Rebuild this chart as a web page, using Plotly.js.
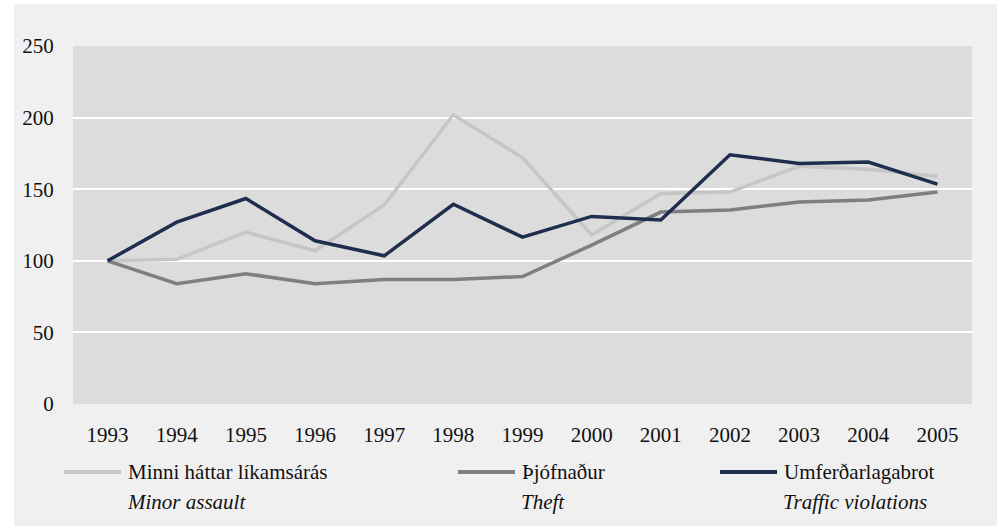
<!DOCTYPE html>
<html>
<head>
<meta charset="utf-8">
<script src="https://cdn.plot.ly/plotly-3.0.1.min.js"></script>
<style>
  html, body { margin: 0; padding: 0; background: #ffffff; font-family: 'Liberation Serif', serif; }
  #chart { position: absolute; left: 14px; top: 4px; width: 983px; height: 522px; }
  #fontwarm { position: absolute; left: -9999px; top: -9999px; font-family: 'Liberation Serif', serif; font-size: 21px; }
</style>
</head>
<body>
<span id="fontwarm">1993 Minni h&aacute;ttar <i>Minor assault</i></span>
<div id="chart"></div>
<script>
const years = ['1993','1994','1995','1996','1997','1998','1999','2000','2001','2002','2003','2004','2005'];
const minorAssault = [100, 101, 120, 107, 139, 202, 172, 118, 147, 148, 166, 164, 159];
const theft = [100, 84, 91, 84, 87, 87, 89, 111, 134, 135.5, 141, 142.5, 148];
const traffic = [100, 127, 143.5, 114, 103.5, 139.5, 116.5, 131, 128.5, 174, 168, 169, 153.5];

const namesIs = ['Minni háttar líkamsárás', 'Þjófnaður', 'Umferðarlagabrot'];
const namesEn = ['Minor assault', 'Theft', 'Traffic violations'];
const yTicks = [0, 50, 100, 150, 200, 250];

const colors = ['#c6c6c6', '#7f7f7f', '#1f2d4e'];
const series = [minorAssault, theft, traffic];

const FONT = 'Liberation Serif, serif';
const FS = 21;
const W = 983, H = 522;
const M = {l: 59, r: 25, t: 42, b: 122};
const pw = W - M.l - M.r, ph = H - M.t - M.b;
const px = x => (x - M.l) / pw;
const py = y => (H - M.b - y) / ph;

const traces = series.map((s, i) => ({
  type: 'scatter', mode: 'lines', x: years, y: s,
  name: namesIs[i], line: {color: colors[i], width: 3.5},
  showlegend: false
}));

const legendX = [50, 444, 706];
const sampleLen = 57;
const legRowY = 468, legEnY = 498;
const shapes = [], annotations = [];
legendX.forEach((lx, i) => {
  shapes.push({type: 'line', xref: 'paper', yref: 'paper',
    x0: px(lx), x1: px(lx + sampleLen), y0: py(legRowY), y1: py(legRowY),
    line: {color: colors[i], width: 4}});
  annotations.push({xref: 'paper', yref: 'paper', x: px(lx + sampleLen + 5), y: py(legRowY),
    xanchor: 'left', yanchor: 'middle', showarrow: false, text: namesIs[i],
    font: {family: FONT, size: FS, color: '#111'}});
  annotations.push({xref: 'paper', yref: 'paper', x: px(lx + sampleLen + 4), y: py(legEnY),
    xanchor: 'left', yanchor: 'middle', showarrow: false, text: '<i>' + namesEn[i] + '</i>',
    font: {family: FONT, size: FS, color: '#111'}});
});
const layout = {
  width: W, height: H,
  margin: M,
  paper_bgcolor: '#f0f0f0', plot_bgcolor: '#dcdcdc',
  font: {family: FONT, size: FS, color: '#111'},
  xaxis: {type: 'category', range: [-0.5, 12.5], showgrid: false, zeroline: false,
    showline: false, ticks: 'outside', ticklen: 12, tickcolor: 'rgba(0,0,0,0)', fixedrange: true},
  yaxis: {range: [0, 250], tickvals: yTicks, showgrid: true, gridcolor: '#ffffff', gridwidth: 2,
    zeroline: false, showline: false, ticks: 'outside', ticklen: 14, tickcolor: 'rgba(0,0,0,0)', fixedrange: true},
  shapes: shapes, annotations: annotations, showlegend: false
};
Plotly.newPlot('chart', traces, layout, {displayModeBar: false, staticPlot: true});
if (document.fonts && document.fonts.load) {
  document.fonts.load('21px "Liberation Serif"').then(() => Plotly.relayout('chart', {}));
}
</script>
</body>
</html>
